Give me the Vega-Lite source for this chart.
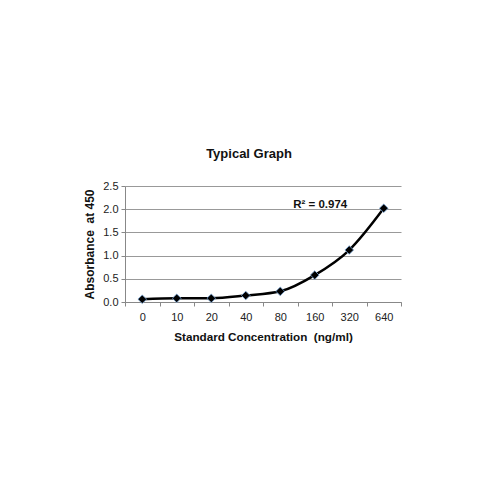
{
  "$schema": "https://vega.github.io/schema/vega-lite/v6.json",
  "autosize": "none",
  "width": 276,
  "height": 116,
  "padding": {"left": 125, "top": 186, "right": 99, "bottom": 198},
  "background": "white",
  "title": {"text": "Typical Graph", "fontSize": 13, "font": "Liberation Sans", "fontWeight": "bold", "color": "#111", "anchor": "middle", "frame": "group", "dx": -14, "offset": 19},
  "config": {
    "font": "Liberation Sans",
    "view": {"stroke": null},
    "axis": {"labelFont": "Liberation Sans", "titleFont": "Liberation Sans", "labelColor": "#222", "titleColor": "#111", "domainColor": "#888", "tickColor": "#888", "gridColor": "#999"}
  },
  "data": {"values": [
    {"conc": "0", "abs": 0.06},
    {"conc": "10", "abs": 0.08},
    {"conc": "20", "abs": 0.08},
    {"conc": "40", "abs": 0.14},
    {"conc": "80", "abs": 0.23},
    {"conc": "160", "abs": 0.58},
    {"conc": "320", "abs": 1.12},
    {"conc": "640", "abs": 2.02}
  ]},
  "encoding": {
    "x": {"field": "conc", "type": "ordinal", "sort": null, "scale": {"type": "band", "paddingInner": 0, "paddingOuter": 0},
      "axis": {"title": "Standard Concentration\u00a0\u00a0(ng/ml)", "titleFontSize": 11.7, "titleFontWeight": "bold", "titlePadding": 9, "labelAngle": 0, "labelFontSize": 11, "tickBand": "extent", "tickSize": 4, "labelPadding": 5, "grid": false}},
    "y": {"field": "abs", "type": "quantitative", "scale": {"domain": [0, 2.5]},
      "axis": {"title": "Absorbance\u00a0\u00a0at 450", "titleFontSize": 12, "titleFontWeight": "bold", "values": [0, 0.5, 1, 1.5, 2, 2.5], "format": ".1f", "labelFontSize": 11, "labelOverlap": false, "tickSize": 4, "labelPadding": 3, "titlePadding": 6, "grid": true}}
  },
  "layer": [
    {
      "mark": {"type": "line", "color": "black", "strokeWidth": 2.5, "interpolate": "monotone"}
    },
    {
      "mark": {"type": "point", "shape": "diamond", "filled": true, "color": "black", "size": 75, "stroke": "#7aa6d6", "strokeWidth": 0.8, "opacity": 1}
    },
    {
      "data": {"values": [{"conc": "320", "abs": 2.1, "label": "R² = 0.974"}]},
      "mark": {"type": "text", "align": "right", "baseline": "middle", "fontSize": 11.5, "fontWeight": "bold", "color": "#111", "dx": -2},
      "encoding": {
        "text": {"field": "label"}
      }
    }
  ]
}
